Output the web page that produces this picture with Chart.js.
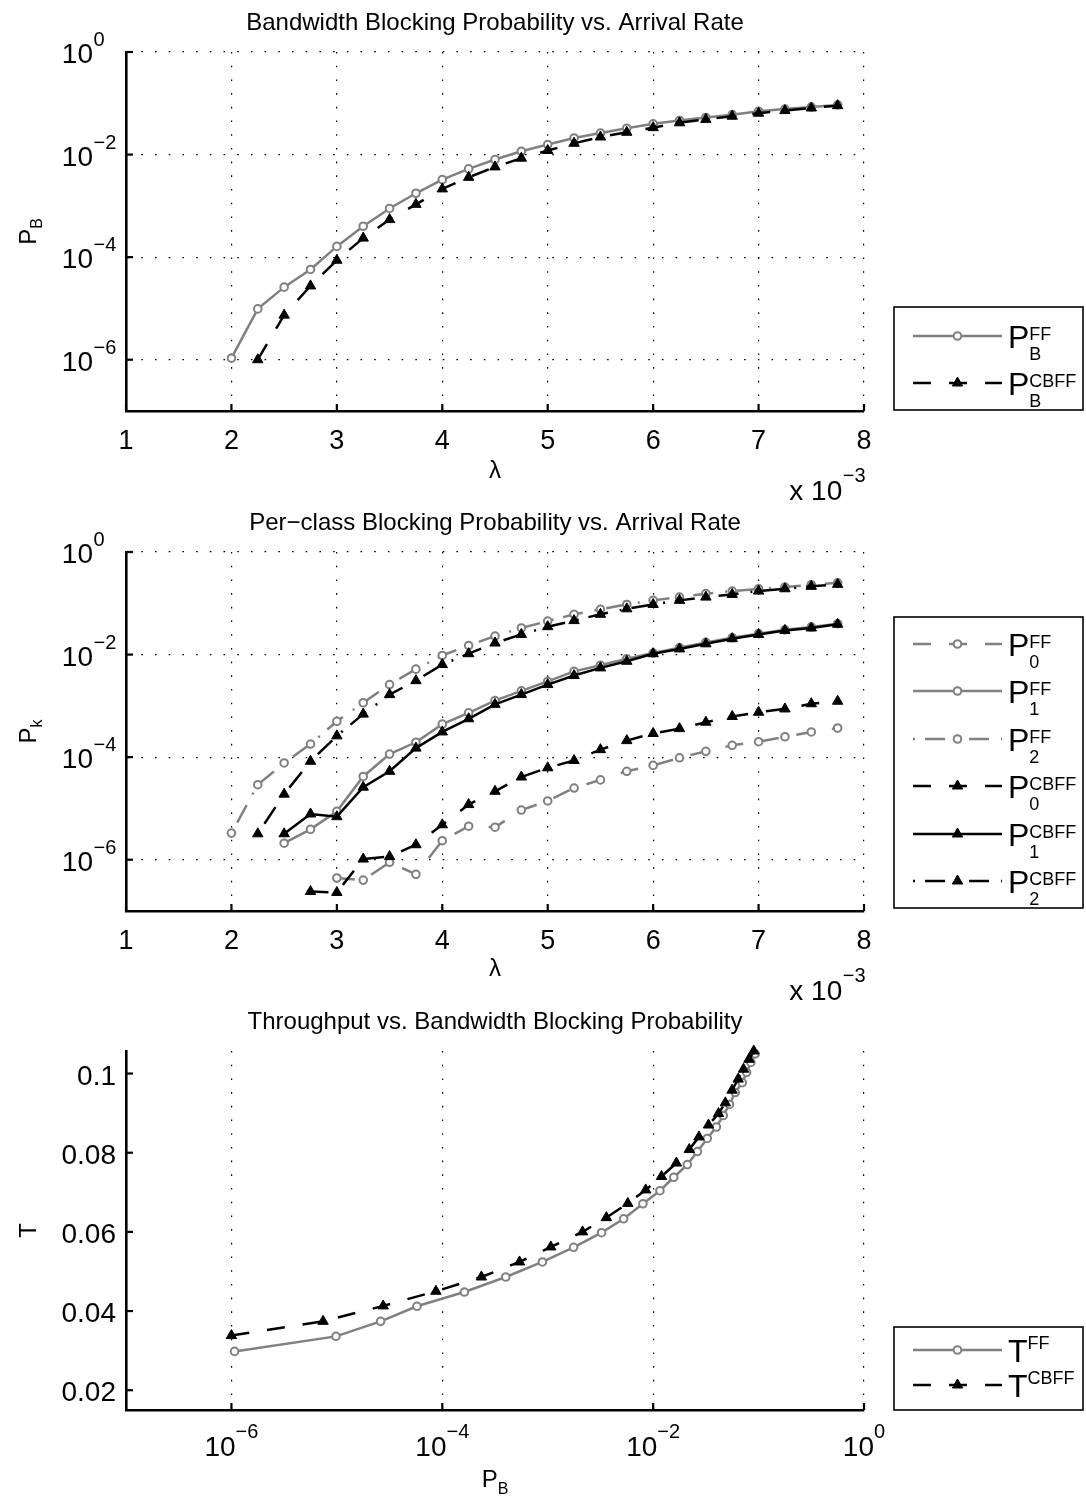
<!DOCTYPE html>
<html><head><meta charset="utf-8">
<script src="https://cdn.jsdelivr.net/npm/chart.js@4.4.0/dist/chart.umd.min.js"></script>
<style>
html,body{margin:0;padding:0;background:#fff;}
#wrap{position:relative;width:1086px;height:1501px;overflow:hidden;background:#fff;}
canvas{position:absolute;left:0;}
</style></head><body>
<div id="wrap">
<canvas id="c1" width="1086" height="500" style="top:0px"></canvas>
<canvas id="c2" width="1086" height="510" style="top:500px"></canvas>
<canvas id="c3" width="1086" height="511" style="top:990px"></canvas>
</div>
<script>
// ---------------- DATA ----------------
const lambda = [2.00,2.25,2.50,2.75,3.00,3.25,3.50,3.75,4.00,4.25,4.50,4.75,5.00,5.25,5.50,5.75,6.00,6.25,6.50,6.75,7.00,7.25,7.50,7.75]; // x 10^-3
const lambdaTicks = [1,2,3,4,5,6,7,8];
const logTicks = [1e-6,1e-4,1e-2,1];
const logTickExp = ['\u22126','\u22124','\u22122','0'];
const tTicks = [0.02,0.04,0.06,0.08,0.1];
const tTickLabels = ['0.02','0.04','0.06','0.08','0.1'];

const pbFF   = [1.07e-6,9.8e-6,2.6e-5,5.75e-5,1.62e-4,4.0e-4,8.9e-4,1.76e-3,3.24e-3,5.25e-3,8.0e-3,1.16e-2,1.57e-2,2.11e-2,2.63e-2,3.26e-2,3.98e-2,4.62e-2,5.3e-2,6.0e-2,7.0e-2,7.7e-2,8.45e-2,9.3e-2];
const pbCBFF = [null,1.0e-6,7.4e-6,2.75e-5,8.7e-5,2.35e-4,5.4e-4,1.07e-3,2.14e-3,3.6e-3,5.75e-3,8.5e-3,1.2e-2,1.66e-2,2.2e-2,2.72e-2,3.35e-2,4.17e-2,4.84e-2,5.6e-2,6.4e-2,7.2e-2,8.1e-2,9.0e-2];

const p0FF   = [null,null,null,null,4.4e-7,4.0e-7,8.9e-7,5.2e-7,2.35e-6,4.5e-6,4.3e-6,9.3e-6,1.4e-5,2.5e-5,3.6e-5,5.3e-5,6.9e-5,9.7e-5,1.3e-4,1.7e-4,2.0e-4,2.5e-4,3.1e-4,3.7e-4];
const p1FF   = [null,null,2.1e-6,3.9e-6,8.8e-6,4.2e-5,1.15e-4,1.95e-4,4.4e-4,7.3e-4,1.27e-3,1.96e-3,3.0e-3,4.7e-3,6.2e-3,8.3e-3,1.07e-2,1.36e-2,1.73e-2,2.13e-2,2.56e-2,3.05e-2,3.45e-2,4.0e-2];
const p2FF   = [3.3e-6,2.9e-5,7.7e-5,1.8e-4,5.0e-4,1.15e-3,2.6e-3,5.2e-3,9.6e-3,1.5e-2,2.3e-2,3.3e-2,4.5e-2,6.1e-2,7.6e-2,9.5e-2,0.114,0.132,0.154,0.173,0.192,0.207,0.23,0.25];
const p0CBFF = [null,null,null,2.4e-7,2.3e-7,1.03e-6,1.15e-6,1.96e-6,4.8e-6,1.19e-5,2.16e-5,4.1e-5,6.2e-5,8.6e-5,1.4e-4,2.1e-4,2.9e-4,3.6e-4,4.8e-4,6.2e-4,7.5e-4,8.7e-4,1.1e-3,1.23e-3];
const p1CBFF = [null,null,3.2e-6,7.8e-6,6.9e-6,2.6e-5,5.3e-5,1.5e-4,3.1e-4,5.6e-4,1.07e-3,1.66e-3,2.6e-3,3.9e-3,5.5e-3,7.4e-3,1.04e-2,1.29e-2,1.62e-2,2.04e-2,2.47e-2,2.96e-2,3.3e-2,3.9e-2];
const p2CBFF = [null,3.2e-6,1.9e-5,8.3e-5,2.6e-4,6.9e-4,1.66e-3,3.1e-3,6.4e-3,1.04e-2,1.68e-2,2.47e-2,3.5e-2,4.6e-2,6.1e-2,7.8e-2,9.5e-2,0.114,0.132,0.149,0.173,0.192,0.214,0.234];

const tFF   = [0.0298,0.0336,0.0374,0.0412,0.0448,0.0486,0.0524,0.0561,0.0598,0.0633,0.0671,0.0704,0.0738,0.0770,0.0803,0.0836,0.0865,0.0894,0.0922,0.0952,0.0977,0.1003,0.1028,0.1050];
const tCBFF = [null,0.0338,0.0374,0.0413,0.0450,0.0486,0.0524,0.0562,0.0600,0.0636,0.0672,0.0706,0.0740,0.0774,0.0808,0.0840,0.0870,0.0899,0.0926,0.0958,0.0986,0.1011,0.1036,0.1057];

// ---------------- STYLE ----------------
const FONT = '"Liberation Sans", Arial, Helvetica, sans-serif';
const GRAY = 'rgb(128,128,128)';
const DASH = [18, 18];
const DASHDOT = [2, 10, 20, 12];
const GRIDDASH = [1.6, 12.1];

function pairs(xs, ys){ const o=[]; for(let i=0;i<xs.length;i++){ if(xs[i]!=null && ys[i]!=null) o.push({x:xs[i], y:ys[i]}); } return o; }
function ff(label, data, dash){ return {label, data, borderColor:GRAY, borderWidth:2.5, borderDash:dash, pointStyle:'circle', pointRadius:3.8, pointBorderWidth:2, pointBorderColor:GRAY, pointBackgroundColor:'#fff', order:2, tension:0, clip:false}; }
function cb(label, data, dash){ return {label, data, borderColor:'#000', borderWidth:2.5, borderDash:dash, pointStyle:'triangle', pointRadius:6, pointBorderWidth:1, pointBorderColor:'#000', pointBackgroundColor:'#000', order:1, tension:0, clip:false}; }

function txt(ctx, s, x, y, size, align){ ctx.font = size+'px '+FONT; ctx.textAlign = align||'left'; ctx.textBaseline='alphabetic'; ctx.fillStyle='#000'; ctx.fillText(s, x, y); }
function wid(ctx, s, size){ ctx.font = size+'px '+FONT; return ctx.measureText(s).width; }

function gridOpts(show){ return {display:show, color:'#000', lineWidth:1.2, drawTicks:false}; }
function borderOpts(){ return {display:true, color:'#000', width:2.6, dash:GRIDDASH}; }

function ticksX(ctx, a, sc, vals){ ctx.save(); ctx.strokeStyle='#000'; ctx.lineWidth=2.2; vals.forEach(v=>{ const p=sc.getPixelForValue(v); ctx.beginPath(); ctx.moveTo(p, a.bottom); ctx.lineTo(p, a.bottom-7); ctx.stroke(); }); ctx.restore(); }
function ticksY(ctx, a, sc, vals){ ctx.save(); ctx.strokeStyle='#000'; ctx.lineWidth=2.2; vals.forEach(v=>{ const p=sc.getPixelForValue(v); ctx.beginPath(); ctx.moveTo(a.left, p); ctx.lineTo(a.left+7, p); ctx.stroke(); }); ctx.restore(); }

function powLabelsY(ctx, a, sc){ logTicks.forEach((v,i)=>{ const p=sc.getPixelForValue(v); const xr=a.left-33; txt(ctx,'10',xr,p+11,28,'right'); txt(ctx,logTickExp[i],xr+0.5,p-6,20,'left'); }); }
function powLabelsX(ctx, a, sc){ logTicks.forEach((v,i)=>{ const p=sc.getPixelForValue(v); const w1=wid(ctx,'10',28), w2=wid(ctx,logTickExp[i],20); const x0=p-(w1+w2)/2; txt(ctx,'10',x0,a.bottom+46,28); txt(ctx,logTickExp[i],x0+w1,a.bottom+28,20); }); }
function linLabelsX(ctx, a, sc){ lambdaTicks.forEach(v=>{ txt(ctx,String(v),sc.getPixelForValue(v),a.bottom+38,27,'center'); }); }
function times10(ctx, a){ const e='\u22123'; const we=wid(ctx,e,20); const xr=a.right-we+1; txt(ctx,'x 10',xr,a.bottom+89,28,'right'); txt(ctx,e,xr+0.5,a.bottom+71,20); }
function title(ctx, a, s){ txt(ctx, s, (a.left+a.right)/2, a.top-22, 24, 'center'); }
function yTitle(ctx, a, base, sub){
  ctx.save(); ctx.translate(36,(a.top+a.bottom)/2); ctx.rotate(-Math.PI/2);
  const w1=wid(ctx,base,24), w2=sub?wid(ctx,sub,16):0; const x0=-(w1+w2)/2;
  txt(ctx,base,x0,0,24); if(sub) txt(ctx,sub,x0+w1,6,16);
  ctx.restore();
}
function xTitle(ctx, a, base, sub, dy){
  const w1=wid(ctx,base,24), w2=sub?wid(ctx,sub,16):0; const x0=(a.left+a.right)/2-(w1+w2)/2;
  txt(ctx,base,x0,a.bottom+dy,24); if(sub) txt(ctx,sub,x0+w1,a.bottom+dy+7,16);
}
function marker(ctx, ds, x, y){
  ctx.save(); ctx.setLineDash([]); ctx.fillStyle=ds.pointBackgroundColor; ctx.strokeStyle=ds.pointBorderColor; ctx.lineWidth=ds.pointBorderWidth;
  const r=ds.pointRadius; ctx.beginPath();
  if(ds.pointStyle==='triangle'){ ctx.moveTo(x,y-r); ctx.lineTo(x+0.866*r,y+0.5*r); ctx.lineTo(x-0.866*r,y+0.5*r); ctx.closePath(); }
  else { ctx.arc(x,y,r,0,Math.PI*2); }
  ctx.fill(); ctx.stroke(); ctx.restore();
}
function legend(ctx, chart, box, rows){
  ctx.save(); ctx.strokeStyle='#000'; ctx.lineWidth=1.6; ctx.setLineDash([]);
  ctx.strokeRect(box[0], box[1], box[2]-box[0], box[3]-box[1]); ctx.restore();
  rows.forEach(r=>{
    const ds = chart.data.datasets[r.ds];
    ctx.save(); ctx.strokeStyle=ds.borderColor; ctx.lineWidth=ds.borderWidth; ctx.setLineDash(ds.borderDash||[]);
    ctx.beginPath(); ctx.moveTo(913, r.y); ctx.lineTo(1002, r.y); ctx.stroke(); ctx.restore();
    marker(ctx, ds, 957.5, r.y);
    const wb = wid(ctx, r.base, 32);
    txt(ctx, r.base, 1008, r.y+12, 32);
    if(r.sub){ txt(ctx, r.sup, 1008+wb, r.y+4, 18); txt(ctx, r.sub, 1008+wb, r.y+24, 18); }
    else { txt(ctx, r.sup, 1008+wb, r.y-1, 18); }
  });
}

function baseOptions(padBottom, padTop, xType, xMin, xMax, yType, yMin, yMax, yGrid){
  return {
    responsive:false, maintainAspectRatio:false, animation:false, devicePixelRatio:1, events:[],
    layout:{autoPadding:false, padding:{left:126, right:222, top:padTop, bottom:padBottom}},
    plugins:{legend:{display:false}, tooltip:{enabled:false}},
    scales:{
      x:{type:xType, min:xMin, max:xMax, position:'bottom',
         afterBuildTicks: s=>{ s.ticks = (xType==='logarithmic'?logTicks:lambdaTicks).map(v=>({value:v})); },
         ticks:{display:false}, grid:gridOpts(true), border:borderOpts(), afterFit: s=>{ s.height=0; }},
      y:{type:yType, min:yMin, max:yMax, position:'left',
         afterBuildTicks: s=>{ s.ticks = (yType==='logarithmic'?logTicks:tTicks).map(v=>({value:v})); },
         ticks:{display:false}, grid:gridOpts(yGrid), border:borderOpts(), afterFit: s=>{ s.width=0; }}
    }
  };
}

// ---------------- CHART 1 ----------------
new Chart(document.getElementById('c1'), {
  type:'line',
  data:{datasets:[ ff('PB FF', pairs(lambda,pbFF), []), cb('PB CBFF', pairs(lambda,pbCBFF), DASH) ]},
  options: baseOptions(89, 52, 'linear', 1, 8, 'logarithmic', 1e-7, 1, true),
  plugins:[{id:'d1', afterDraw(chart){
    const ctx=chart.ctx, a=chart.chartArea;
    ticksX(ctx,a,chart.scales.x,lambdaTicks); ticksY(ctx,a,chart.scales.y,logTicks);
    powLabelsY(ctx,a,chart.scales.y); linLabelsX(ctx,a,chart.scales.x); times10(ctx,a);
    title(ctx,a,'Bandwidth Blocking Probability vs. Arrival Rate');
    yTitle(ctx,a,'P','B'); xTitle(ctx,a,'\u03bb',null,67);
    legend(ctx, chart, [894,307,1083,410], [
      {ds:0, y:336, base:'P', sup:'FF', sub:'B'},
      {ds:1, y:383, base:'P', sup:'CBFF', sub:'B'}]);
  }}]
});

// ---------------- CHART 2 ----------------
new Chart(document.getElementById('c2'), {
  type:'line',
  data:{datasets:[
    ff('P0 FF', pairs(lambda,p0FF), DASH), ff('P1 FF', pairs(lambda,p1FF), []), ff('P2 FF', pairs(lambda,p2FF), DASHDOT),
    cb('P0 CBFF', pairs(lambda,p0CBFF), DASH), cb('P1 CBFF', pairs(lambda,p1CBFF), []), cb('P2 CBFF', pairs(lambda,p2CBFF), DASHDOT) ]},
  options: baseOptions(99, 52, 'linear', 1, 8, 'logarithmic', 1e-7, 1, true),
  plugins:[{id:'d2', afterDraw(chart){
    const ctx=chart.ctx, a=chart.chartArea;
    ticksX(ctx,a,chart.scales.x,lambdaTicks); ticksY(ctx,a,chart.scales.y,logTicks);
    powLabelsY(ctx,a,chart.scales.y); linLabelsX(ctx,a,chart.scales.x); times10(ctx,a);
    title(ctx,a,'Per\u2212class Blocking Probability vs. Arrival Rate');
    yTitle(ctx,a,'P','k'); xTitle(ctx,a,'\u03bb',null,65);
    const o=500;
    legend(ctx, chart, [894,617-o,1083,908-o], [
      {ds:0, y:644-o, base:'P', sup:'FF', sub:'0'},
      {ds:1, y:691-o, base:'P', sup:'FF', sub:'1'},
      {ds:2, y:739-o, base:'P', sup:'FF', sub:'2'},
      {ds:3, y:786-o, base:'P', sup:'CBFF', sub:'0'},
      {ds:4, y:834-o, base:'P', sup:'CBFF', sub:'1'},
      {ds:5, y:881-o, base:'P', sup:'CBFF', sub:'2'}]);
  }}]
});

// ---------------- CHART 3 ----------------
new Chart(document.getElementById('c3'), {
  type:'line',
  data:{datasets:[ ff('T FF', pairs(pbFF,tFF), []), cb('T CBFF', pairs(pbCBFF,tCBFF), DASH) ]},
  options: baseOptions(91, 61, 'logarithmic', 1e-7, 1, 'linear', 0.015, 0.1057, false),
  plugins:[{id:'d3', afterDraw(chart){
    const ctx=chart.ctx, a=chart.chartArea;
    ticksX(ctx,a,chart.scales.x,logTicks); ticksY(ctx,a,chart.scales.y,tTicks);
    tTicks.forEach((v,i)=>{ txt(ctx,tTickLabels[i],a.left-10,chart.scales.y.getPixelForValue(v)+11,28,'right'); });
    powLabelsX(ctx,a,chart.scales.x);
    title(ctx,a,'Throughput vs. Bandwidth Blocking Probability');
    yTitle(ctx,a,'T',null); xTitle(ctx,a,'P','B',77);
    const o=990;
    legend(ctx, chart, [894,1327-o,1083,1410-o], [
      {ds:0, y:1350-o, base:'T', sup:'FF'},
      {ds:1, y:1385-o, base:'T', sup:'CBFF'}]);
  }}]
});
</script>
</body></html>
